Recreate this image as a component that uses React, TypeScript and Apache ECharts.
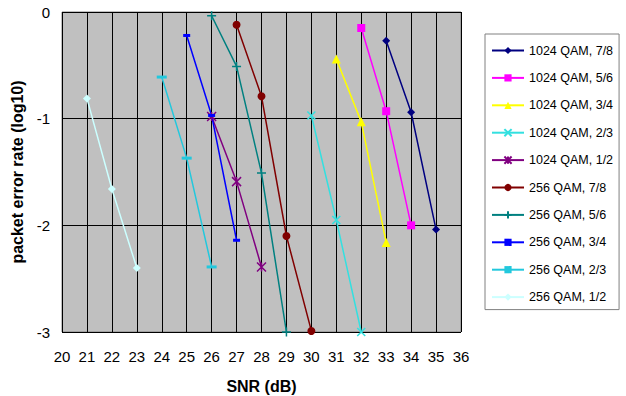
import React, { useEffect, useRef } from "react";
import * as echarts from "echarts";

const names = [
  "1024 QAM, 7/8",
  "1024 QAM, 5/6",
  "1024 QAM, 3/4",
  "1024 QAM, 2/3",
  "1024 QAM, 1/2",
  "256 QAM, 7/8",
  "256 QAM, 5/6",
  "256 QAM, 3/4",
  "256 QAM, 2/3",
  "256 QAM, 1/2",
];

const q1024_78: [number, number][] = [[33, -0.27], [34, -0.94], [35, -2.04]];
const q1024_56: [number, number][] = [[32, -0.15], [33, -0.93], [34, -2.0]];
const q1024_34: [number, number][] = [[31, -0.44], [32, -1.03], [33, -2.16]];
const q1024_23: [number, number][] = [[30, -0.97], [31, -1.95], [32, -3.0]];
const q1024_12: [number, number][] = [[26, -0.98], [27, -1.59], [28, -2.39]];
const q256_78: [number, number][] = [[27, -0.12], [28, -0.79], [29, -2.1], [30, -2.99]];
const q256_56: [number, number][] = [[26, -0.035], [27, -0.51], [28, -1.51], [29, -3.0]];
const q256_34: [number, number][] = [[25, -0.22], [26, -0.97], [27, -2.14]];
const q256_23: [number, number][] = [[24, -0.61], [25, -1.37], [26, -2.39]];
const q256_12: [number, number][] = [[21, -0.81], [22, -1.66], [23, -2.4]];

const seriesData = [q1024_78, q1024_56, q1024_34, q1024_23, q1024_12, q256_78, q256_56, q256_34, q256_23, q256_12];
const colors = ["#000080", "#ff00ff", "#ffff00", "#33e0e0", "#800080", "#800000", "#008080", "#0000ff", "#22c8dd", "#ccffff"];

const xTicks = { min: 20, max: 36, interval: 1 };
const yTicks = { min: -3, max: 0, interval: 1 };

const CROSS = "path://M0,0L10,10M10,0L0,10";
const ASTER = "path://M0,0L10,10M10,0L0,10M5,0L5,10";
const PLUS = "path://M5,0L5,10M0,5L10,5";

const symbols: any[] = [
  { symbol: "diamond", size: 8, stroke: false },
  { symbol: "rect", size: 8, stroke: false },
  { symbol: "triangle", size: 9, stroke: false },
  { symbol: CROSS, size: 8, stroke: true },
  { symbol: ASTER, size: 9, stroke: true },
  { symbol: "circle", size: 8, stroke: false },
  { symbol: PLUS, size: 9, stroke: true },
  { symbol: "rect", size: [7, 3], stroke: false },
  { symbol: "rect", size: [10, 3], stroke: false },
  { symbol: "diamond", size: 8, stroke: false },
];

export default function App() {
  const ref = useRef<HTMLDivElement>(null);
  useEffect(() => {
    if (!ref.current) return;
    const chart = echarts.init(ref.current, null, { renderer: "svg" });
    const font = "Liberation Sans, Arial, sans-serif";
    chart.setOption({
      animation: false,
      textStyle: { fontFamily: font },
      grid: {
        left: 62,
        right: 165,
        top: 12,
        bottom: 64,
        containLabel: false,
        outerBoundsMode: "none",
        show: true,
        backgroundColor: "#c0c0c0",
        borderColor: "#808080",
        borderWidth: 1,
      },
      legend: {
        orient: "vertical",
        left: 485,
        top: 34,
        width: 139,
        padding: [10, 6, 6, 6],
        itemGap: 14.4,
        itemWidth: 32,
        itemHeight: 9,
        borderColor: "#808080",
        borderWidth: 1,
        backgroundColor: "#ffffff",
        textStyle: { fontFamily: font, fontSize: 12.5, color: "#000" },
        data: names,
      },
      xAxis: {
        type: "value",
        min: xTicks.min,
        max: xTicks.max,
        interval: xTicks.interval,
        name: "SNR (dB)",
        nameLocation: "middle",
        nameGap: 46,
        nameTextStyle: { fontFamily: font, fontSize: 16, fontWeight: "bold", color: "#000" },
        axisLine: { show: false },
        axisTick: { show: false },
        axisLabel: { fontFamily: font, fontSize: 15, color: "#000", margin: 17 },
        splitLine: { show: true, lineStyle: { color: "#000", width: 1 } },
      },
      yAxis: {
        type: "value",
        min: yTicks.min,
        max: yTicks.max,
        interval: yTicks.interval,
        name: "packet error rate (log10)",
        nameLocation: "middle",
        nameGap: 35,
        nameTextStyle: { fontFamily: font, fontSize: 16, fontWeight: "bold", color: "#000" },
        axisLine: { show: false },
        axisTick: { show: false },
        axisLabel: { fontFamily: font, fontSize: 15, color: "#000", margin: 12 },
        splitLine: { show: true, lineStyle: { color: "#000", width: 1 } },
      },
      series: seriesData.map((d, i) => ({
        name: names[i],
        type: "line",
        data: d,
        symbol: symbols[i].symbol,
        symbolSize: symbols[i].size,
        showAllSymbol: true,
        lineStyle: { color: colors[i], width: 1.5 },
        itemStyle: symbols[i].stroke
          ? { color: colors[i], borderColor: colors[i], borderWidth: 1.5 }
          : { color: colors[i], borderWidth: 0 },
        emphasis: { disabled: true },
      })),
    });
    return () => chart.dispose();
  }, []);
  return <div ref={ref} style={{ width: 626, height: 396, position: "absolute", left: 0, top: 0, background: "#fff" }} />;
}
